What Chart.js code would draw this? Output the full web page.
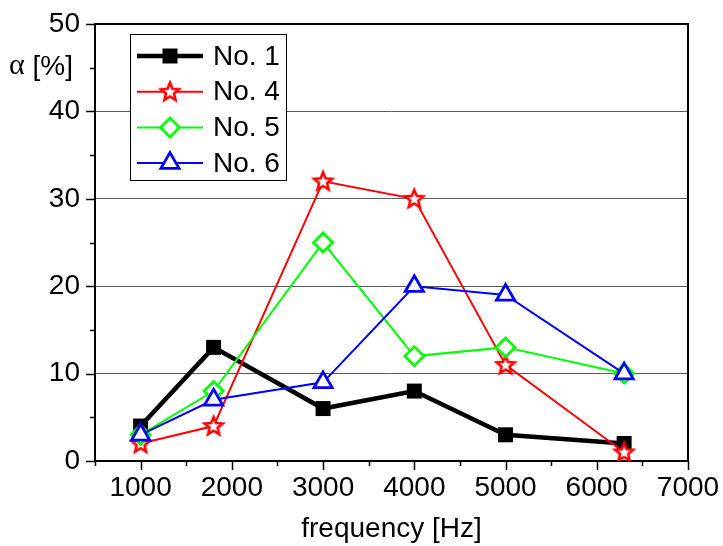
<!DOCTYPE html>
<html>
<head>
<meta charset="utf-8">
<script src="https://cdn.jsdelivr.net/npm/chart.js@4.4.0/dist/chart.umd.min.js"></script>
<style>
  body { margin: 0; background: #fff; }
  canvas { display: block; }
</style>
</head>
<body>
<canvas id="alphaChart" width="723" height="546"></canvas>
<script>
// data
const freqs = [1000, 1800, 3000, 4000, 5000, 6300];
const no1 = [4, 13, 6, 8, 3, 2];
const no4 = [2, 4, 32, 30, 11, 1];
const no5 = [3, 8, 25, 12, 13, 10];
const no6 = [3, 7, 9, 20, 19, 10];
const seriesNames = ['No. 1', 'No. 4', 'No. 5', 'No. 6'];
const xTicks = [1000, 2000, 3000, 4000, 5000, 6000, 7000];
const yTicks = [0, 10, 20, 30, 40, 50];

const FONT = "'Liberation Sans', Arial, sans-serif";

function toPoints(vals) {
    return freqs.map((f, i) => ({ x: f, y: vals[i] }));
}

// hollow red star marker
function makeStar() {
    const c = document.createElement('canvas');
    c.width = 24; c.height = 24;
    const g = c.getContext('2d');
    const cx = 12, cy = 12.5, ro = 9.5, ri = 4.2;
    g.beginPath();
    for (let k = 0; k < 10; k++) {
        const r = k % 2 === 0 ? ro : ri;
        const a = -Math.PI / 2 + k * Math.PI / 5;
        const px = cx + r * Math.cos(a), py = cy + r * Math.sin(a);
        if (k === 0) g.moveTo(px, py); else g.lineTo(px, py);
    }
    g.closePath();
    g.fillStyle = '#fff';
    g.fill();
    g.lineWidth = 2.6;
    g.strokeStyle = '#ff0000';
    g.stroke();
    return c;
}
const starImg = makeStar();

// ticks, frame and y label
const frameTicks = {
    id: 'frameTicks',
    beforeDatasetsDraw(chart) {
        const { ctx, chartArea: a } = chart;
        ctx.save();
        ctx.strokeStyle = '#000';
        ctx.lineWidth = 2;
        ctx.strokeRect(a.left, a.top, a.right - a.left, a.bottom - a.top);
        ctx.restore();
    },
    afterDraw(chart) {
        const { ctx, chartArea: a, scales } = chart;
        ctx.save();
        ctx.strokeStyle = '#000';
        ctx.lineWidth = 1.5;
        for (let v = 500; v <= 7000; v += 500) {
            const px = Math.round(scales.x.getPixelForValue(v)) + 0.5;
            const len = v % 1000 === 0 ? 9 : 5;
            ctx.beginPath(); ctx.moveTo(px, a.bottom); ctx.lineTo(px, a.bottom + len); ctx.stroke();
        }
        for (let v = 0; v <= 50; v += 5) {
            const py = Math.round(scales.y.getPixelForValue(v)) + 0.5;
            const len = v % 10 === 0 ? 9 : 5;
            ctx.beginPath(); ctx.moveTo(a.left, py); ctx.lineTo(a.left - len, py); ctx.stroke();
        }
        // y axis label
        ctx.fillStyle = '#000';
        ctx.textBaseline = 'middle';
        ctx.textAlign = 'left';
        ctx.font = "30px 'Liberation Serif', serif";
        ctx.fillText('\u03b1', 9, 66);
        const w = ctx.measureText('\u03b1').width;
        ctx.font = '28px ' + FONT;
        ctx.fillText(' [%]', 9 + w, 67);
        ctx.restore();
    }
};

// legend box inside the plot
const insideLegend = {
    id: 'insideLegend',
    afterDatasetsDraw(chart) {
        const ctx = chart.ctx;
        ctx.save();
        ctx.fillStyle = '#fff';
        ctx.fillRect(130.5, 34.5, 156, 146);
        ctx.strokeStyle = '#000';
        ctx.lineWidth = 1;
        ctx.strokeRect(130.5, 34.5, 156, 146);
        chart.data.datasets.forEach((ds, i) => {
            const y = 56 + i * 35.7;
            ctx.strokeStyle = ds.borderColor;
            ctx.lineWidth = ds.borderWidth;
            ctx.beginPath(); ctx.moveTo(137, y); ctx.lineTo(203, y); ctx.stroke();
            ctx.fillStyle = ds.pointBackgroundColor;
            ctx.strokeStyle = ds.pointBorderColor;
            ctx.lineWidth = ds.pointBorderWidth;
            Chart.helpers.drawPoint(ctx, {
                pointStyle: ds.pointStyle,
                radius: ds.pointRadius,
                rotation: 0,
                borderWidth: ds.pointBorderWidth
            }, 170, y);
            ctx.fillStyle = '#000';
            ctx.font = '28px ' + FONT;
            ctx.textBaseline = 'middle';
            ctx.textAlign = 'left';
            ctx.fillText(ds.label, 213, y + 1);
        });
        ctx.restore();
    }
};

const ctx = document.getElementById('alphaChart').getContext('2d');
const chart = new Chart(ctx, {
    type: 'line',
    data: {
        datasets: [
            {
                label: seriesNames[0],
                data: toPoints(no1),
                borderColor: '#000000',
                borderWidth: 4.5,
                pointStyle: 'rect',
                pointRadius: 10.6,
                pointBackgroundColor: '#000000',
                pointBorderColor: '#000000',
                pointBorderWidth: 0,
                order: 3
            },
            {
                label: seriesNames[1],
                data: toPoints(no4),
                borderColor: '#ff0000',
                borderWidth: 2,
                pointStyle: starImg,
                pointRadius: 10,
                pointBackgroundColor: '#ffffff',
                pointBorderColor: '#ff0000',
                pointBorderWidth: 2.5,
                order: 2
            },
            {
                label: seriesNames[2],
                data: toPoints(no5),
                borderColor: '#00ff00',
                borderWidth: 2,
                pointStyle: 'rectRot',
                pointRadius: 9.5,
                pointBackgroundColor: '#ffffff',
                pointBorderColor: '#00ff00',
                pointBorderWidth: 2.8,
                order: 1
            },
            {
                label: seriesNames[3],
                data: toPoints(no6),
                borderColor: '#0000ff',
                borderWidth: 2,
                pointStyle: 'triangle',
                pointRadius: 10.5,
                pointBackgroundColor: '#ffffff',
                pointBorderColor: '#0000ff',
                pointBorderWidth: 2.8,
                order: 0
            }
        ]
    },
    options: {
        responsive: false,
        animation: false,
        layout: { padding: { left: 0, right: 35, top: 24, bottom: 0 } },
        plugins: {
            legend: { display: false },
            tooltip: { enabled: false }
        },
        scales: {
            x: {
                type: 'linear',
                min: 500,
                max: 7000,
                afterBuildTicks(scale) {
                    scale.ticks = xTicks.map(v => ({ value: v }));
                },
                afterFit(scale) {
                    scale.height = 85;
                    scale.paddingLeft = 0;
                    scale.paddingRight = 0;
                },
                grid: { display: false, drawTicks: false },
                border: { display: false },
                ticks: {
                    padding: 10,
                    color: '#000',
                    font: { family: FONT, size: 28 },
                    maxRotation: 0,
                    autoSkip: false,
                    callback: v => String(v)
                },
                title: {
                    display: true,
                    text: 'frequency [Hz]',
                    color: '#000',
                    font: { family: FONT, size: 28 },
                    padding: { top: 0, bottom: 0 }
                }
            },
            y: {
                min: 0,
                max: 50,
                afterBuildTicks(scale) {
                    scale.ticks = yTicks.map(v => ({ value: v }));
                },
                afterFit(scale) {
                    scale.width = 95;
                    scale.paddingTop = 0;
                    scale.paddingBottom = 0;
                },
                grid: {
                    drawTicks: false,
                    lineWidth: 1,
                    color: c => (c.tick && c.tick.value > 0 && c.tick.value < 50) ? '#5a5a5a' : 'rgba(0,0,0,0)'
                },
                border: { display: false },
                ticks: {
                    padding: 15,
                    color: '#000',
                    font: { family: FONT, size: 28 },
                    callback: v => String(v)
                }
            }
        }
    },
    plugins: [frameTicks, insideLegend]
});
</script>
</body>
</html>
